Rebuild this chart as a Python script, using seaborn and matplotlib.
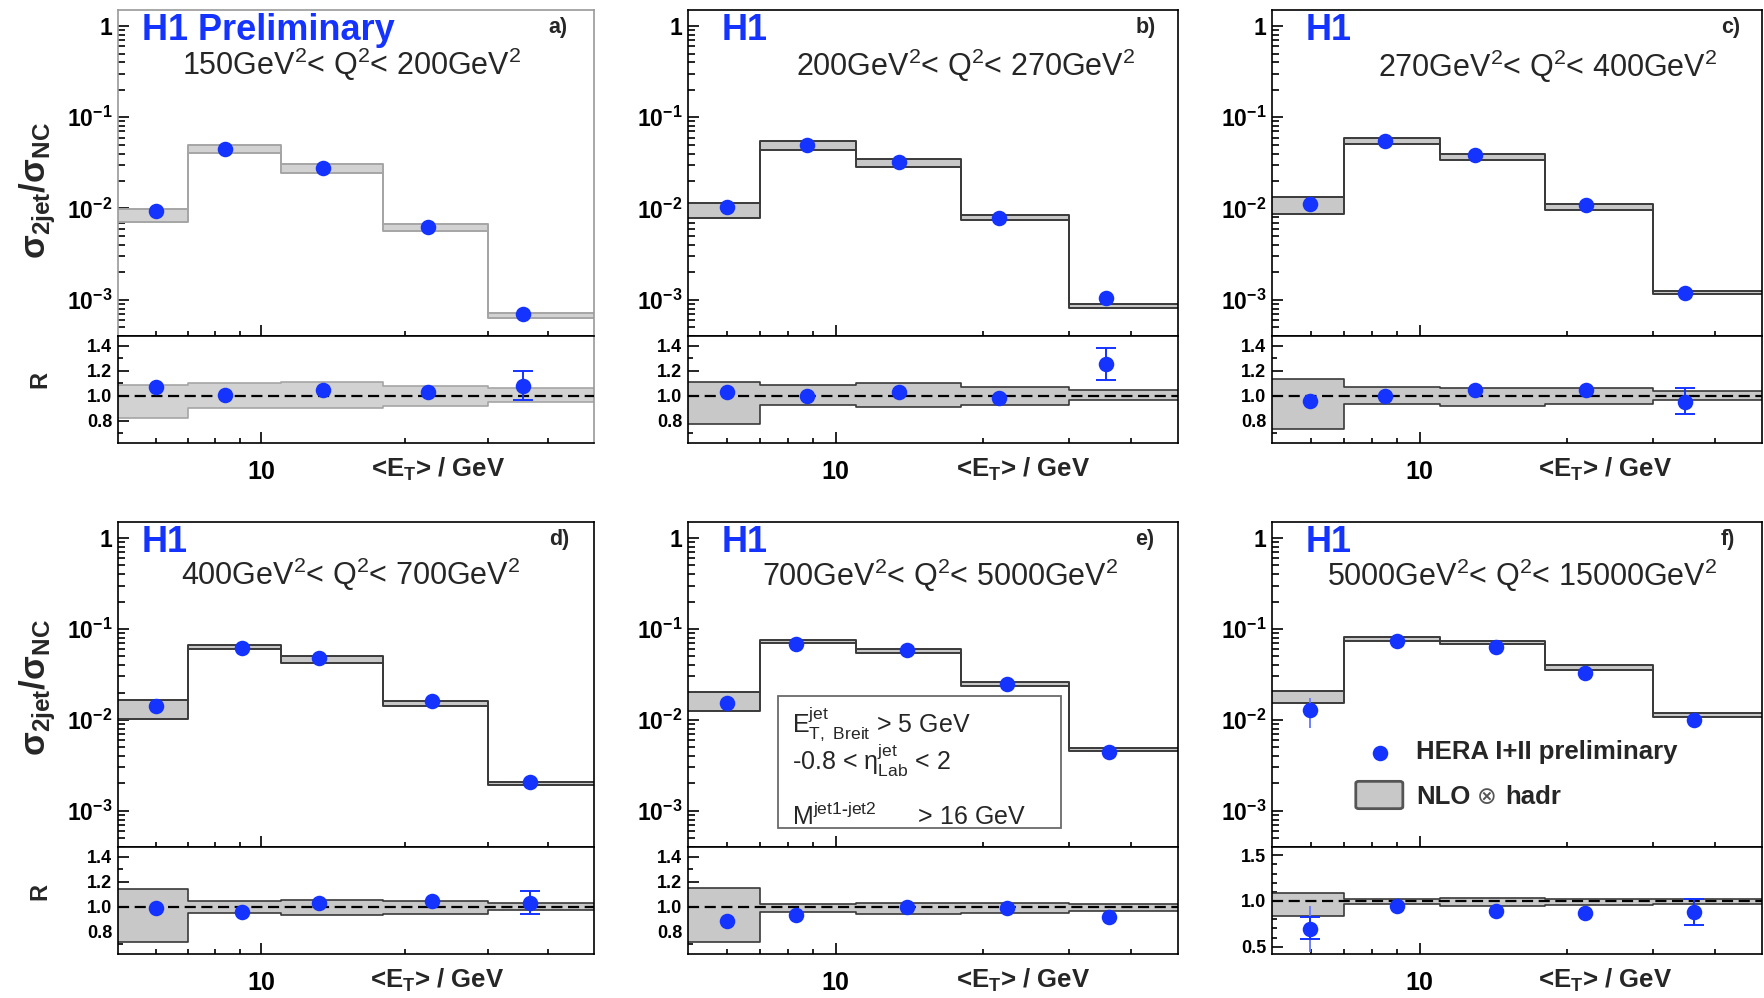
import numpy as np
import pandas as pd
import matplotlib
matplotlib.use("Agg")
import matplotlib.pyplot as plt
from matplotlib.patches import Rectangle, FancyBboxPatch
from matplotlib.ticker import FixedLocator, NullFormatter, FuncFormatter, LogLocator
import seaborn as sns

# ---------------- data ----------------
ET_EDGES = [5, 7, 11, 18, 30, 50]
X_MAJOR = [10]
X_MINOR = [6, 7, 8, 9, 20, 30, 40]
Y_DECADES = [1e-3, 1e-2, 1e-1, 1.0]
R_TICKS = [0.8, 1.0, 1.2, 1.4]
R_MINOR = [0.7, 0.9, 1.1, 1.3]
R_TICKS_F = [0.5, 1.0, 1.5]
R_MINOR_F = [0.6, 0.7, 0.8, 0.9, 1.1, 1.2, 1.3, 1.4]

PANEL_TAGS = ["a)", "b)", "c)", "d)", "e)", "f)"]
H1_LABELS = ["H1 Preliminary", "H1", "H1", "H1", "H1", "H1"]
Q2_LABELS = [r"150GeV$^2$< Q$^2$< 200GeV$^2$",
             r"200GeV$^2$< Q$^2$< 270GeV$^2$",
             r"270GeV$^2$< Q$^2$< 400GeV$^2$",
             r"400GeV$^2$< Q$^2$< 700GeV$^2$",
             r"700GeV$^2$< Q$^2$< 5000GeV$^2$",
             r"5000GeV$^2$< Q$^2$< 15000GeV$^2$"]
YLABEL = r"σ$_{2jet}$/σ$_{NC}$"
RLABEL = "R"
XLABEL = r"<E$_{T}$> / GeV"
CUT_LINES = [r"E$^{jet}_{T,\ Breit}$ > 5 GeV",
             r"-0.8 < η$^{jet}_{Lab}$ < 2",
             r"M$^{jet1\text{-}jet2}$      > 16 GeV"]
LEGEND_DATA = "HERA I+II preliminary"
LEGEND_NLO = ["NLO", "⊗", "hadr"]

# panel a: 150 < Q2 < 200
ET_A = [6.0, 8.4, 13.5, 22.4, 35.5]
XS_A = [0.00927, 0.0447, 0.0281, 0.0063, 0.000697]
NLO_UP_A = [0.0099, 0.0497, 0.031, 0.00672, 0.00071]
NLO_DN_A = [0.0072, 0.0402, 0.0247, 0.00569, 0.000628]
R_A = [1.072, 1.005, 1.046, 1.027, 1.078]
R_UP_A = [1.09, 1.10, 1.11, 1.078, 1.06]
R_DN_A = [0.817, 0.90, 0.905, 0.92, 0.95]
R_ELO_A = [1.055, 0.99, 1.03, 1.01, 0.965]
R_EHI_A = [1.09, 1.02, 1.06, 1.045, 1.20]

# panel b: 200 < Q2 < 270
ET_B = [6.0, 8.75, 13.5, 21.6, 35.6]
XS_B = [0.01035, 0.0491, 0.0323, 0.00778, 0.00104]
NLO_UP_B = [0.01135, 0.0543, 0.0348, 0.00845, 0.000898]
NLO_DN_B = [0.0079, 0.044, 0.0285, 0.00746, 0.000804]
R_B = [1.027, 0.995, 1.027, 0.981, 1.254]
R_UP_B = [1.109, 1.087, 1.101, 1.068, 1.049]
R_DN_B = [0.776, 0.923, 0.913, 0.923, 0.967]
R_ELO_B = [1.01, 0.98, 1.01, 0.965, 1.128]
R_EHI_B = [1.045, 1.01, 1.045, 0.997, 1.38]

# panel c: 270 < Q2 < 400
ET_C = [5.98, 8.5, 13.0, 21.9, 34.8]
XS_C = [0.01107, 0.0552, 0.0388, 0.01087, 0.00118]
NLO_UP_C = [0.0134, 0.060, 0.0398, 0.01107, 0.00126]
NLO_DN_C = [0.0086, 0.0512, 0.0343, 0.0096, 0.00115]
R_C = [0.954, 1.0, 1.049, 1.049, 0.951]
R_UP_C = [1.131, 1.068, 1.06, 1.06, 1.036]
R_DN_C = [0.732, 0.932, 0.918, 0.932, 0.967]
R_ELO_C = [0.94, 0.985, 1.035, 1.035, 0.85]
R_EHI_C = [0.97, 1.015, 1.065, 1.065, 1.06]

# panel d: 400 < Q2 < 700
ET_D = [6.01, 9.1, 13.2, 22.8, 36.7]
XS_D = [0.0141, 0.0616, 0.048, 0.01596, 0.0021]
NLO_UP_D = [0.01663, 0.067, 0.0505, 0.0162, 0.00207]
NLO_DN_D = [0.0101, 0.0596, 0.0427, 0.0141, 0.00193]
R_D = [0.992, 0.958, 1.026, 1.045, 1.032]
R_UP_D = [1.145, 1.045, 1.058, 1.045, 1.026]
R_DN_D = [0.716, 0.953, 0.932, 0.945, 0.971]
R_ELO_D = [0.975, 0.94, 1.01, 1.03, 0.939]
R_EHI_D = [1.01, 0.975, 1.04, 1.06, 1.129]

# panel e: 700 < Q2 < 5000
ET_E = [6.01, 8.3, 14.0, 22.4, 36.2]
XS_E = [0.0153, 0.0687, 0.058, 0.0246, 0.00438]
NLO_UP_E = [0.0201, 0.0759, 0.0607, 0.0259, 0.00488]
NLO_DN_E = [0.0124, 0.0698, 0.0548, 0.0236, 0.00456]
R_E = [0.889, 0.932, 1.0, 0.992, 0.918]
R_UP_E = [1.149, 1.024, 1.033, 1.033, 1.019]
R_DN_E = [0.72, 0.957, 0.943, 0.951, 0.965]
R_ELO_E = [0.87, 0.915, 0.985, 0.975, 0.90]
R_EHI_E = [0.905, 0.95, 1.015, 1.01, 0.935]

# panel f: 5000 < Q2 < 15000
ET_F = [5.98, 9.0, 14.3, 21.8, 36.4]
XS_F = [0.01285, 0.0733, 0.0631, 0.0331, 0.0100]
XS_ELO_F = [0.0081, 0.071, 0.061, 0.032, 0.0095]
XS_EHI_F = [0.01754, 0.0756, 0.065, 0.0342, 0.0105]
NLO_UP_F = [0.0207, 0.081, 0.0746, 0.0398, 0.0118]
NLO_DN_F = [0.0155, 0.0746, 0.0675, 0.0357, 0.01087]
R_F = [0.694, 0.946, 0.885, 0.863, 0.874]
R_UP_F = [1.09, 1.025, 1.036, 1.025, 1.018]
R_DN_F = [0.838, 0.964, 0.946, 0.953, 0.964]
R_ELO_F = [0.586, 0.93, 0.87, 0.845, 0.737]
R_EHI_F = [0.82, 0.96, 0.90, 0.88, 1.018]
R_TLO_F = [0.44, 0.93, 0.87, 0.845, 0.737]
R_THI_F = [0.946, 0.96, 0.90, 0.88, 1.018]

PANELS = [
    dict(et=ET_A, xs=XS_A, up=NLO_UP_A, dn=NLO_DN_A, r=R_A, rup=R_UP_A, rdn=R_DN_A, rlo=R_ELO_A, rhi=R_EHI_A),
    dict(et=ET_B, xs=XS_B, up=NLO_UP_B, dn=NLO_DN_B, r=R_B, rup=R_UP_B, rdn=R_DN_B, rlo=R_ELO_B, rhi=R_EHI_B),
    dict(et=ET_C, xs=XS_C, up=NLO_UP_C, dn=NLO_DN_C, r=R_C, rup=R_UP_C, rdn=R_DN_C, rlo=R_ELO_C, rhi=R_EHI_C),
    dict(et=ET_D, xs=XS_D, up=NLO_UP_D, dn=NLO_DN_D, r=R_D, rup=R_UP_D, rdn=R_DN_D, rlo=R_ELO_D, rhi=R_EHI_D),
    dict(et=ET_E, xs=XS_E, up=NLO_UP_E, dn=NLO_DN_E, r=R_E, rup=R_UP_E, rdn=R_DN_E, rlo=R_ELO_E, rhi=R_EHI_E),
    dict(et=ET_F, xs=XS_F, up=NLO_UP_F, dn=NLO_DN_F, r=R_F, rup=R_UP_F, rdn=R_DN_F, rlo=R_ELO_F, rhi=R_EHI_F,
         xlo=XS_ELO_F, xhi=XS_EHI_F, rtlo=R_TLO_F, rthi=R_THI_F),
]

# ---------------- style ----------------
sns.set_theme(style="ticks")
plt.rcParams['font.family'] = ['Liberation Sans', 'DejaVu Sans']
plt.rcParams['font.weight'] = 'bold'
plt.rcParams['mathtext.fontset'] = 'custom'
plt.rcParams['mathtext.rm'] = 'Liberation Sans'
plt.rcParams['mathtext.it'] = 'Liberation Sans:italic'
plt.rcParams['mathtext.bf'] = 'Liberation Sans:bold'
plt.rcParams['mathtext.default'] = 'regular'
plt.rcParams['axes.edgecolor'] = 'black'
plt.rcParams['axes.linewidth'] = 1.2
plt.rcParams['xtick.color'] = 'black'
plt.rcParams['ytick.color'] = 'black'

BLUE = '#1433ff'
W, H = 1765.0, 998.0
COL_PX = [(118, 594), (688, 1178), (1272, 1762)]
ROW_PX = [(10, 336, 443), (522, 847, 954)]
H1_X = [0.05, 0.069, 0.069, 0.05, 0.069, 0.069]
TAG_X = [0.945, 0.955, 0.955, 0.948, 0.951, 0.945]
Q2_X = [0.49, 0.567, 0.562, 0.489, 0.514, 0.511]
Q2_Y = [0.80, 0.797, 0.795, 0.806, 0.803, 0.803]
XL_X = [0.673, 0.684, 0.68, 0.671, 0.684, 0.68]
ERR_MIN = 0.09   # errors smaller than the marker are hidden (as in ROOT)


def rect(l, t, r, b):
    return [l / W, 1 - b / H, (r - l) / W, (b - t) / H]


def ext(v):
    v = list(v)
    return np.array(v + [v[-1]], float)


def style_x(ax, labels):
    ax.set_xscale('log')
    ax.set_xlim(ET_EDGES[0], ET_EDGES[-1])
    ax.xaxis.set_major_locator(FixedLocator(X_MAJOR))
    ax.xaxis.set_minor_locator(FixedLocator(X_MINOR))
    ax.xaxis.set_minor_formatter(NullFormatter())
    ax.xaxis.set_major_formatter(FuncFormatter(lambda v, p: "%d" % round(v)))
    ax.tick_params(axis='x', which='both', direction='in', top=False, labelbottom=labels,
                   labelsize=18, pad=12, width=1.2)
    ax.tick_params(axis='x', which='major', length=8)
    ax.tick_params(axis='x', which='minor', length=3.5)


def dec_fmt(v, p):
    if abs(v - 1.0) < 1e-9:
        return "1"
    return r"10$^{%d}$" % round(np.log10(v))


fig = plt.figure(figsize=(17.65, 9.98), dpi=100)

for i, p in enumerate(PANELS):
    row, col = divmod(i, 3)
    l, r = COL_PX[col]
    t, m, b = ROW_PX[row]
    axu = fig.add_axes(rect(l, t, r, m))
    axl = fig.add_axes(rect(l, m, r, b))
    light = (i == 0)
    edge_col = '#a5a5a5' if light else '#3a3a3a'
    fill_col = '#d2d2d2' if light else '#c8c8c8'
    edges = np.array(ET_EDGES, float)

    # ---- upper panel ----
    up, dn = ext(p['up']), ext(p['dn'])
    axu.fill_between(edges, dn, up, step='post', color=fill_col, lw=0, zorder=1)
    axu.step(edges, up, where='post', color=edge_col, lw=1.4, zorder=2)
    axu.step(edges, dn, where='post', color=edge_col, lw=1.4, zorder=2)
    if 'xlo' in p:
        xs = np.array(p['xs'])
        axu.errorbar(p['et'], xs, yerr=[xs - np.array(p['xlo']), np.array(p['xhi']) - xs],
                     fmt='none', ecolor='#6f7fff', elinewidth=1.4, capsize=0, zorder=4)
    sns.scatterplot(x=p['et'], y=p['xs'], ax=axu, color=BLUE, s=125, linewidth=0,
                    zorder=5, legend=False)
    style_x(axu, False)
    axu.set_yscale('log')
    axu.set_ylim(4e-4, 1.5)
    axu.yaxis.set_major_locator(FixedLocator(Y_DECADES))
    axu.yaxis.set_minor_locator(LogLocator(base=10, subs=np.arange(2, 10), numticks=20))
    axu.yaxis.set_minor_formatter(NullFormatter())
    axu.yaxis.set_major_formatter(FuncFormatter(dec_fmt))
    axu.tick_params(axis='y', which='both', direction='in', right=False, labelsize=16.5,
                    pad=4, width=1.2)
    axu.tick_params(axis='y', which='major', length=8)
    axu.tick_params(axis='y', which='minor', length=5)
    axu.set_xlabel("")
    axu.set_ylabel("")

    axu.text(H1_X[i], 0.908, H1_LABELS[i], transform=axu.transAxes, color=BLUE,
             fontsize=26, fontweight='bold', ha='left', va='baseline')
    axu.text(TAG_X[i], 0.93, PANEL_TAGS[i], transform=axu.transAxes, fontsize=15.5,
             fontweight='bold', ha='right', va='baseline')
    axu.text(Q2_X[i], Q2_Y[i], Q2_LABELS[i], transform=axu.transAxes, fontsize=22,
             fontweight='normal', ha='center', va='baseline')

    # ---- ratio panel ----
    rup, rdn = ext(p['rup']), ext(p['rdn'])
    axl.fill_between(edges, rdn, rup, step='post', color=fill_col, lw=0, zorder=1)
    axl.step(edges, rup, where='post', color=edge_col, lw=1.2, zorder=2)
    axl.step(edges, rdn, where='post', color=edge_col, lw=1.2, zorder=2)
    axl.axhline(1.0, color='black', lw=1.6, ls=(0, (5, 2.5)), zorder=3)
    et = np.array(p['et'])
    rr = np.array(p['r'])
    lo, hi = np.array(p['rlo']), np.array(p['rhi'])
    big = (hi - lo) > ERR_MIN
    if 'rtlo' in p:
        tlo, thi = np.array(p['rtlo']), np.array(p['rthi'])
        bt = (thi - tlo) > ERR_MIN
        axl.errorbar(et[bt], rr[bt], yerr=[rr[bt] - tlo[bt], thi[bt] - rr[bt]],
                     fmt='none', ecolor='#6f7fff', elinewidth=1.4, capsize=0, zorder=4)
    if big.any():
        axl.errorbar(et[big], rr[big], yerr=[rr[big] - lo[big], hi[big] - rr[big]],
                     fmt='none', ecolor=BLUE, elinewidth=1.4, capsize=7, capthick=1.4, zorder=4)
    sns.scatterplot(x=p['et'], y=p['r'], ax=axl, color=BLUE, s=125, linewidth=0,
                    zorder=5, legend=False)
    style_x(axl, True)
    if i == 5:
        axl.set_ylim(0.42, 1.59)
        axl.yaxis.set_major_locator(FixedLocator(R_TICKS_F))
        axl.yaxis.set_minor_locator(FixedLocator(R_MINOR_F))
    else:
        axl.set_ylim(0.62, 1.48)
        axl.yaxis.set_major_locator(FixedLocator(R_TICKS))
        axl.yaxis.set_minor_locator(FixedLocator(R_MINOR))
    axl.yaxis.set_major_formatter(FuncFormatter(lambda v, p_: "%.1f" % v))
    axl.tick_params(axis='y', which='both', direction='in', right=False, labelsize=13,
                    pad=4, width=1.2)
    axl.tick_params(axis='y', which='major', length=8)
    axl.tick_params(axis='y', which='minor', length=3.5)
    axl.set_xlabel("")
    axl.set_ylabel("")
    axl.text(XL_X[i], -0.318, XLABEL, transform=axl.transAxes, fontsize=18.5,
             fontweight='bold', ha='center', va='baseline')

    for ax in (axu, axl):
        for s in ax.spines.values():
            s.set_visible(True)
            s.set_linewidth(1.2)
    if light:
        for s in ('top', 'right', 'left'):
            axu.spines[s].set_color('#9a9a9a')
        axl.spines['right'].set_color('#9a9a9a')

    if col == 0:
        fig.text(38 / W, 1 - (190 if row == 0 else 687) / H, YLABEL, rotation=90,
                 fontsize=25, fontweight='bold', ha='center', va='center')
        fig.text(40 / W, 1 - (380 if row == 0 else 892) / H, RLABEL, rotation=90,
                 fontsize=17, fontweight='bold', ha='center', va='center')

    # ---- cuts box (panel e) ----
    if i == 4:
        axu.add_patch(Rectangle((0.184, 0.058), 0.577, 0.407, transform=axu.transAxes,
                                facecolor='white', edgecolor='#6a6a6a', lw=1.3, zorder=6))
        for txt, yy in zip(CUT_LINES, [0.354, 0.237, 0.068]):
            axu.text(0.212, yy, txt, transform=axu.transAxes, fontsize=18,
                     fontweight='normal', ha='left', va='baseline', zorder=7)

    # ---- legend (panel f) ----
    if i == 5:
        axu.scatter([0.22], [0.289], transform=axu.transAxes, s=125, color=BLUE,
                    linewidth=0, zorder=7, clip_on=False)
        axu.text(0.294, 0.27, LEGEND_DATA, transform=axu.transAxes, fontsize=18.5,
                 fontweight='bold', ha='left', va='baseline')
        axu.add_patch(FancyBboxPatch((0.171, 0.118), 0.096, 0.084,
                                     boxstyle="round,pad=0,rounding_size=0.006",
                                     transform=axu.transAxes, facecolor='#c8c8c8',
                                     edgecolor='#555555', lw=2, zorder=6))
        axu.text(0.294, 0.132, LEGEND_NLO[0], transform=axu.transAxes, fontsize=18.5,
                 fontweight='bold', ha='left', va='baseline')
        axu.text(0.418, 0.132, LEGEND_NLO[1], transform=axu.transAxes, fontsize=17,
                 fontweight='normal', color='#555555', ha='left', va='baseline',
                 family=['DejaVu Sans'])
        axu.text(0.476, 0.132, LEGEND_NLO[2], transform=axu.transAxes, fontsize=18.5,
                 fontweight='bold', ha='left', va='baseline')

fig.savefig("out.png", dpi=100)
